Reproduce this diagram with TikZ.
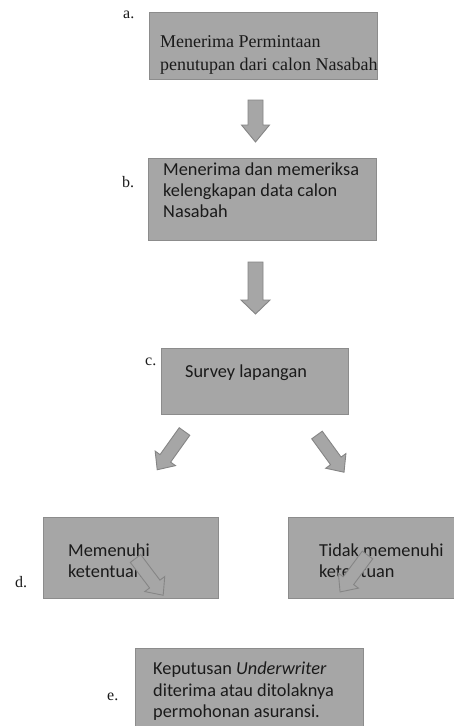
\documentclass[tikz,border=0pt]{standalone}
\usepackage{fontspec}
\setmainfont{Liberation Serif}
\newfontfamily\carlito{Carlito}
\definecolor{boxfill}{HTML}{A6A6A6}
\definecolor{boxline}{HTML}{8C8C8C}
\definecolor{arrline}{HTML}{858585}
\definecolor{txt}{HTML}{1A1A1A}
\tikzset{
  box/.style={draw=boxline, fill=boxfill, line width=0.9pt, inner sep=0pt, anchor=north west},
  serif text/.style={text=txt, inner sep=0pt, anchor=base west, font=\fontsize{18}{22}\selectfont},
  sans text/.style={text=txt, inner sep=0pt, anchor=base west, font=\carlito\fontsize{18.3}{22}\selectfont},
  label text/.style={text=txt, inner sep=0pt, anchor=base west, font=\fontsize{16}{19}\selectfont},
  arrowstyle/.style={draw=arrline, fill=boxfill, line width=0.9pt, line join=miter},
  pics/barrow/.style n args={4}{code={
    \path[arrowstyle] (-#1,0) -- (-#1,#3-#4) -- (-#2,#3-#4) -- (0,#3)
      -- (#2,#3-#4) -- (#1,#3-#4) -- (#1,0) -- cycle;}}
}
\begin{document}
\begin{tikzpicture}[x=1pt,y=-1pt]
\useasboundingbox (0,0) rectangle (454,726);
\clip (0,0) rectangle (454,726);
\fill[white] (0,0) rectangle (454,726);

% boxes
\node[box, minimum width=228pt, minimum height=67pt] (boxa) at (149,12) {};
\node[box, minimum width=228pt, minimum height=82pt] (boxb) at (148,158) {};
\node[box, minimum width=187pt, minimum height=66pt] (boxc) at (161,348) {};
\node[box, minimum width=175pt, minimum height=81pt] (boxdl) at (43,517) {};
\node[box, minimum width=180pt, minimum height=81pt] (boxdr) at (288,517) {};
\node[box, minimum width=228pt, minimum height=90pt] (boxe) at (135,648) {};

% labels
\node[label text] (la) at (123,18) {a.};
\node[label text] (lb) at (122,187) {b.};
\node[label text] (lc) at (145,365) {c.};
\node[label text] (ld) at (15,587) {d.};
\node[label text] (le) at (107,700) {e.};

% texts
\node[serif text] (ta1) at (160,47) {Menerima Permintaan};
\node[serif text] (ta2) at (160,70) {penutupan dari calon Nasabah};
\node[sans text] (tb1) at (163,175) {Menerima dan memeriksa};
\node[sans text] (tb2) at (163,196) {kelengkapan data calon};
\node[sans text] (tb3) at (163,217) {Nasabah};
\node[sans text] (tc1) at (185,377) {Survey lapangan};
\node[sans text] (tdl1) at (68,556) {Memenuhi};
\node[sans text] (tdl2) at (68,577) {ketentuan};
\node[sans text] (tdr1) at (319,556) {Tidak memenuhi};
\node[sans text] (tdr2) at (319,577) {ketentuan};
\node[sans text] (te1) at (153,674) {Keputusan \textit{Underwriter}};
\node[sans text] (te2) at (153,696) {diterima atau ditolaknya};
\node[sans text] (te3) at (153,717) {permohonan asuransi.};

% block arrows
\pic (ar1) at (255.5,100) {barrow={7.5}{14}{42}{17}};
\pic (ar2) at (255.5,262) {barrow={7.5}{14.5}{52}{14}};
\pic[rotate=-35.5] (ar3) at (184.5,431.5) {barrow={6.5}{12.5}{47}{14}};
\pic[rotate=36] (ar4) at (317,435) {barrow={6.5}{12.5}{46}{14}};
\pic[rotate=37] (ar5) at (135.5,558.5) {barrow={6.5}{12.5}{46}{14}};
\pic[rotate=-36.6] (ar6) at (367.5,555) {barrow={6.5}{12.5}{46}{14}};
\end{tikzpicture}
\end{document}
